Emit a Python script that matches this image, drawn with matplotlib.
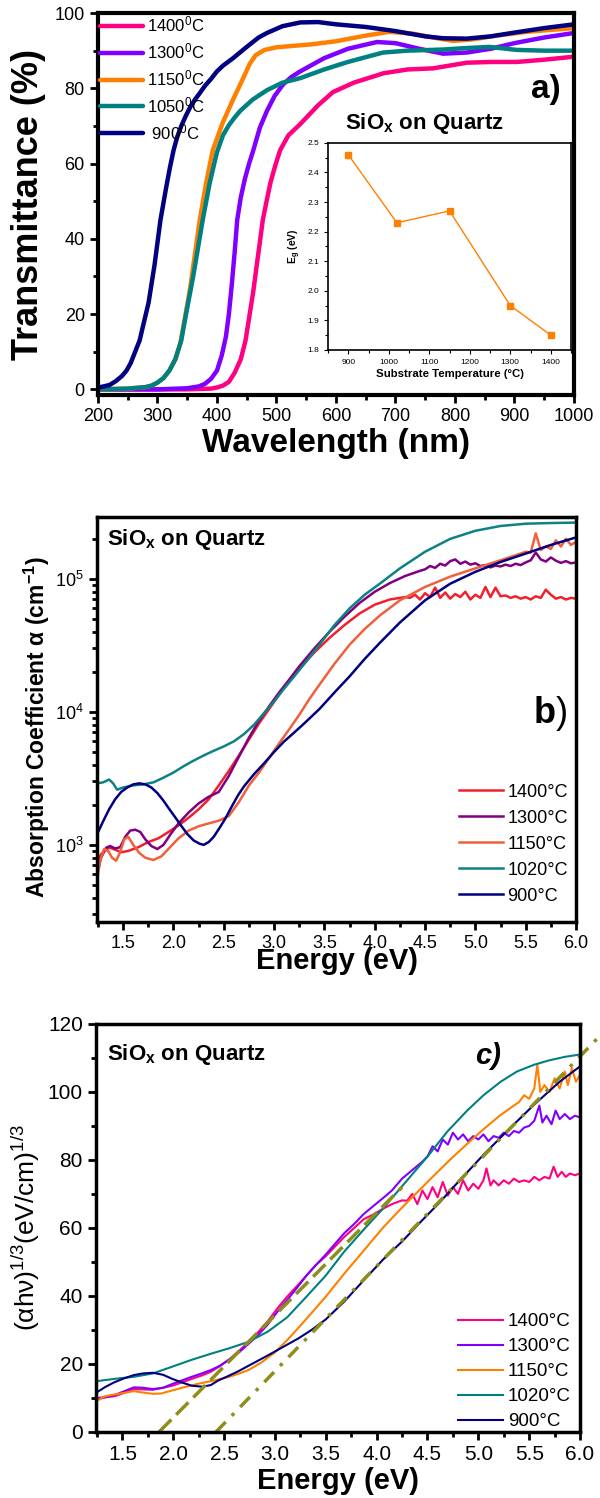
import numpy as np
import matplotlib
matplotlib.use("Agg")
import matplotlib.pyplot as plt
from matplotlib.ticker import MultipleLocator

plt.rcParams['font.family'] = ['Liberation Sans', 'DejaVu Sans']
plt.rcParams['mathtext.fontset'] = 'custom'
plt.rcParams['mathtext.rm'] = 'Liberation Sans'
plt.rcParams['mathtext.it'] = 'Liberation Sans:italic'
plt.rcParams['mathtext.bf'] = 'Liberation Sans:bold'
plt.rcParams['mathtext.default'] = 'regular'

# ---------------- panel a : transmittance ----------------
wl_1400 = [200, 350, 390, 400, 410, 420, 430, 440, 448, 455, 461, 466, 472, 477, 484, 490, 498, 506, 520, 540, 570, 595, 630, 680, 720, 763, 820, 860, 904, 950, 1000]
T_1400 = [0, 0, 0.2, 0.5, 1, 2, 4.5, 8, 13, 20, 26, 32, 39, 45, 50.5, 55, 59.5, 63.5, 67.5, 70.5, 75.5, 79, 81.5, 84, 85, 85.3, 86.8, 87, 87, 87.6, 88.4]

wl_1300 = [200, 300, 350, 370, 380, 390, 400, 408, 415, 420, 425, 430, 434, 440, 447, 454, 461, 472, 484, 497, 511, 525, 540, 580, 620, 669, 700, 740, 780, 820, 860, 900, 950, 1000]
T_1300 = [0, 0, 0.3, 0.8, 1.5, 2.8, 5, 9, 14, 20, 28, 37, 45, 51, 56, 60, 63.5, 69.5, 74, 78, 81, 83, 84.5, 88, 90.5, 92.3, 92, 90.5, 89.2, 89.5, 90.5, 92, 93.5, 94.7]

wl_1150 = [200, 250, 280, 290, 300, 310, 320, 330, 338, 345, 350, 355, 363, 371, 382, 393, 410, 427, 445, 455, 465, 480, 500, 530, 560, 600, 650, 690, 730, 770, 797, 830, 870, 920, 1000]
T_1150 = [0, 0.2, 0.6, 1, 1.8, 3, 5, 8, 12, 18, 22.5, 27, 36, 45, 55, 63.6, 71, 77, 83, 86.5, 88.8, 90.2, 90.9, 91.3, 91.7, 92.5, 94, 95, 94.5, 93.3, 92.6, 93, 94, 95, 96]

wl_1050 = [200, 250, 280, 290, 300, 310, 320, 330, 340, 348, 354, 360, 368, 376, 388, 400, 410, 420, 430, 439, 460, 484, 510, 540, 580, 620, 679, 720, 780, 820, 858, 904, 950, 1000]
T_1050 = [0, 0.2, 0.6, 1, 1.8, 3, 5, 8, 13, 20, 25, 30, 37.5, 45, 55, 63, 67.5, 70.2, 72.3, 74, 77, 79.5, 81.5, 82.7, 85, 87, 89.5, 90, 90.3, 90.7, 91, 90.2, 90, 90]

wl_900 = [200, 210, 220, 230, 240, 248, 255, 262, 270, 277, 285, 290, 295, 300, 305, 310, 315, 321, 327, 333, 340, 348, 355, 363, 371, 380, 390, 400, 410, 427, 450, 470, 484, 510, 540, 570, 600, 650, 700, 750, 780, 820, 860, 900, 950, 1000]
T_900 = [0.5, 0.8, 1.2, 2.2, 3.5, 5, 7, 9.8, 13, 17.7, 23, 28, 33, 39, 45, 49.5, 54, 59, 63.5, 67, 70, 72.8, 75, 77, 78.7, 80.7, 82.5, 84.5, 86, 88, 91, 93.5, 94.7, 96.5, 97.5, 97.6, 97, 96.3, 95.2, 93.8, 93.3, 93.2, 93.8, 94.8, 96, 97]

labels_a = ['1400$^0$C', '1300$^0$C', '1150$^0$C', '1050$^0$C', ' 900$^0$C']
colors_a = ['#ff0080', '#8000ff', '#ff8000', '#008080', '#000080']

# inset : band gap vs substrate temperature
T_sub = [900, 1020, 1150, 1300, 1400]
Eg = [2.46, 2.23, 2.27, 1.95, 1.85]

# ---------------- panel b : absorption coefficient ----------------
E_b1400 = [1.24, 1.28, 1.33, 1.37, 1.42, 1.48, 1.55, 1.65, 1.75, 1.85, 1.95, 2.05, 2.15, 2.25, 2.35, 2.45, 2.55, 2.65, 2.75, 2.85, 2.95, 3.05, 3.15, 3.25, 3.4, 3.55, 3.7, 3.85, 4.0, 4.15, 4.3,
           4.35, 4.40, 4.45, 4.50, 4.55, 4.60, 4.65, 4.70, 4.75, 4.80, 4.85, 4.90, 4.95, 5.00, 5.05, 5.10, 5.15, 5.20, 5.25, 5.30, 5.35, 5.40, 5.45, 5.50, 5.55, 5.60, 5.65, 5.70, 5.75, 5.80, 5.85, 5.90, 5.95, 6.00]
a_b1400 = [750, 850, 930, 950, 920, 880, 900, 960, 1050, 1120, 1250, 1400, 1600, 1850, 2200, 2800, 3600, 4700, 6200, 8200, 1.05e4, 1.35e4, 1.7e4, 2.1e4, 2.8e4, 3.6e4, 4.5e4, 5.5e4, 6.4e4, 7.0e4, 7.3e4,
           7.2e4, 7.6e4, 7.0e4, 7.8e4, 7.3e4, 8.6e4, 7.2e4, 7.9e4, 7.1e4, 7.7e4, 7.3e4, 8.0e4, 7.0e4, 7.6e4, 7.2e4, 8.7e4, 7.3e4, 8.6e4, 7.4e4, 7.5e4, 7.2e4, 7.4e4, 7.1e4, 7.3e4, 7.0e4, 7.4e4, 7.2e4, 8.3e4, 7.6e4, 7.1e4, 7.3e4, 7.0e4, 7.2e4, 7.1e4]

E_b1300 = [1.24, 1.28, 1.33, 1.37, 1.42, 1.47, 1.52, 1.57, 1.62, 1.67, 1.72, 1.78, 1.84, 1.90, 1.97, 2.05, 2.15, 2.25, 2.35, 2.45, 2.55, 2.65, 2.75, 2.85, 2.95, 3.05, 3.15, 3.25, 3.4, 3.55, 3.7, 3.85, 4.0, 4.15, 4.3, 4.45,
           4.50, 4.55, 4.60, 4.65, 4.70, 4.75, 4.80, 4.85, 4.90, 4.95, 5.00, 5.05, 5.10, 5.15, 5.20, 5.25, 5.30, 5.35, 5.40, 5.45, 5.50, 5.55, 5.60, 5.65, 5.70, 5.75, 5.80, 5.85, 5.90, 5.95, 6.00]
a_b1300 = [600, 800, 950, 980, 940, 960, 1150, 1280, 1300, 1250, 1100, 980, 930, 1000, 1200, 1450, 1750, 2050, 2300, 2500, 3300, 4600, 6400, 8600, 1.1e4, 1.4e4, 1.75e4, 2.2e4, 3.0e4, 4.0e4, 5.2e4, 6.6e4, 8.0e4, 9.3e4, 1.05e5, 1.15e5,
           1.18e5, 1.25e5, 1.21e5, 1.3e5, 1.26e5, 1.36e5, 1.4e5, 1.3e5, 1.35e5, 1.28e5, 1.31e5, 1.25e5, 1.27e5, 1.22e5, 1.26e5, 1.24e5, 1.28e5, 1.25e5, 1.3e5, 1.27e5, 1.33e5, 1.38e5, 1.58e5, 1.4e5, 1.35e5, 1.45e5, 1.37e5, 1.32e5, 1.36e5, 1.31e5, 1.33e5]

E_b1150 = [1.24, 1.27, 1.31, 1.35, 1.39, 1.43, 1.47, 1.51, 1.55, 1.60, 1.66, 1.72, 1.80, 1.88, 1.96, 2.05, 2.15, 2.25, 2.35, 2.45, 2.55, 2.65, 2.75, 2.85, 2.95, 3.05, 3.15, 3.25, 3.35, 3.45, 3.6, 3.75, 3.9, 4.05, 4.25, 4.5, 4.75, 5.0, 5.25, 5.45,
           5.50, 5.55, 5.60, 5.65, 5.70, 5.75, 5.80, 5.85, 5.90, 5.95, 6.00]
a_b1150 = [550, 750, 930, 900, 800, 760, 880, 1100, 1150, 1000, 870, 800, 770, 820, 950, 1120, 1280, 1380, 1450, 1520, 1650, 2100, 2800, 3500, 4500, 5800, 7400, 9500, 1.25e4, 1.6e4, 2.3e4, 3.2e4, 4.2e4, 5.3e4, 6.9e4, 8.7e4, 1.04e5, 1.2e5, 1.38e5, 1.55e5,
           1.6e5, 1.58e5, 2.2e5, 1.65e5, 1.75e5, 1.68e5, 1.95e5, 1.75e5, 2.0e5, 1.8e5, 1.9e5]

E_b1020 = [1.24, 1.30, 1.36, 1.40, 1.44, 1.50, 1.60, 1.70, 1.80, 1.90, 2.00, 2.10, 2.20, 2.30, 2.40, 2.50, 2.60, 2.70, 2.80, 2.90, 3.00, 3.10, 3.20, 3.30, 3.45, 3.60, 3.75, 3.90, 4.05, 4.25, 4.50, 4.75, 5.00, 5.25, 5.50, 5.75, 6.00]
a_b1020 = [2.9e3, 2.95e3, 3.1e3, 2.9e3, 2.6e3, 2.7e3, 2.8e3, 2.85e3, 2.95e3, 3.2e3, 3.5e3, 3.9e3, 4.3e3, 4.7e3, 5.1e3, 5.5e3, 6.0e3, 6.8e3, 8.0e3, 9.8e3, 1.2e4, 1.5e4, 1.85e4, 2.3e4, 3.2e4, 4.5e4, 6.0e4, 7.6e4, 9.2e4, 1.2e5, 1.6e5, 2.0e5, 2.3e5, 2.5e5, 2.6e5, 2.63e5, 2.65e5]

E_b900 = [1.24, 1.30, 1.36, 1.42, 1.48, 1.54, 1.60, 1.66, 1.72, 1.78, 1.84, 1.90, 1.96, 2.02, 2.08, 2.14, 2.20, 2.26, 2.30, 2.35, 2.40, 2.46, 2.52, 2.58, 2.64, 2.70, 2.80, 2.90, 3.00, 3.10, 3.20, 3.30, 3.45, 3.60, 3.75, 3.90, 4.05, 4.25, 4.5, 4.75, 5.0, 5.25, 5.5, 5.75, 6.0]
a_b900 = [1.2e3, 1.5e3, 1.85e3, 2.2e3, 2.5e3, 2.7e3, 2.85e3, 2.9e3, 2.85e3, 2.7e3, 2.45e3, 2.15e3, 1.85e3, 1.6e3, 1.38e3, 1.2e3, 1.08e3, 1.02e3, 1.0e3, 1.05e3, 1.15e3, 1.35e3, 1.6e3, 1.95e3, 2.35e3, 2.75e3, 3.4e3, 4.1e3, 5.0e3, 6.0e3, 7.0e3, 8.2e3, 1.05e4, 1.4e4, 1.85e4, 2.5e4, 3.3e4, 4.7e4, 6.9e4, 9.2e4, 1.13e5, 1.34e5, 1.55e5, 1.8e5, 2.05e5]

labels_b = ['1400°C', '1300°C', '1150°C', '1020°C', '900°C']
colors_b = ['#f0202c', '#800080', '#f0603c', '#0e8282', '#000080']

# ---------------- panel c : (alpha h nu)^(1/3) ----------------
E_c1400 = [1.24, 1.33, 1.42, 1.52, 1.61, 1.70, 1.80, 1.90, 1.99, 2.08, 2.18, 2.28, 2.37, 2.46, 2.55, 2.65, 2.74, 2.84, 2.93, 3.02, 3.12, 3.22, 3.31, 3.40, 3.50, 3.59, 3.68, 3.78, 3.87, 3.97, 4.06, 4.15, 4.25,
           4.30, 4.35, 4.40, 4.45, 4.50, 4.55, 4.60, 4.65, 4.70, 4.75, 4.80, 4.85, 4.90, 4.95, 5.00, 5.05, 5.08, 5.12, 5.15, 5.20, 5.25, 5.30, 5.35, 5.40, 5.45, 5.50, 5.55, 5.60, 5.65, 5.70, 5.74, 5.78, 5.82, 5.86, 5.90, 5.95, 6.00]
v_c1400 = [10, 10.2, 10.5, 11.5, 12.6, 12.5, 12.4, 13, 13.6, 14.5, 15.6, 16.6, 17.7, 19.4, 21.3, 23.9, 26.5, 29.5, 32.6, 36.2, 39.8, 43, 46, 49, 51.7, 54.5, 57.3, 60, 62.5, 64, 65.6, 67, 68.1,
           68, 70, 67, 71, 68.5, 72, 69, 73.5, 69.5, 72, 70, 74, 71, 73, 71.5, 74, 77.5, 72.5, 74, 72.5, 74, 73, 74.5, 73.5, 74, 73.5, 75, 74, 75, 74.5, 78, 75, 76.5, 75, 76, 75.5, 76]

E_c1300 = [1.24, 1.33, 1.42, 1.52, 1.61, 1.70, 1.80, 1.90, 1.99, 2.08, 2.18, 2.28, 2.37, 2.46, 2.55, 2.65, 2.74, 2.84, 2.93, 3.02, 3.12, 3.22, 3.31, 3.40, 3.50, 3.59, 3.68, 3.78, 3.87, 3.97, 4.06, 4.15, 4.25, 4.35, 4.45,
           4.50, 4.55, 4.60, 4.65, 4.70, 4.75, 4.80, 4.85, 4.90, 4.95, 5.00, 5.05, 5.10, 5.15, 5.20, 5.25, 5.30, 5.35, 5.40, 5.45, 5.50, 5.55, 5.60, 5.63, 5.67, 5.72, 5.76, 5.80, 5.85, 5.90, 5.95, 6.00]
v_c1300 = [9.5, 10.2, 10.8, 12, 13.1, 13, 12.6, 13, 14.1, 15.1, 16.2, 17.2, 18.2, 19.5, 21.3, 23.5, 25.9, 28.7, 31.6, 35.2, 38.8, 42.5, 46, 49, 52.2, 55.3, 58.4, 61.2, 64, 66.5, 68.7, 71, 74.5, 77, 79.5,
           81, 84, 82.5, 86, 84.5, 88, 86, 87.5, 85.5, 87, 86, 87.5, 85.5, 87, 86.5, 88, 87, 88.5, 88, 89.5, 90, 91.5, 96, 91, 93, 90.5, 94.5, 92, 93.5, 92, 93, 92.5]

E_c1150 = [1.24, 1.33, 1.42, 1.52, 1.61, 1.70, 1.80, 1.88, 1.99, 2.10, 2.25, 2.40, 2.55, 2.65, 2.74, 2.87, 3.0, 3.12, 3.23, 3.36, 3.50, 3.68, 3.87, 4.06, 4.25, 4.40, 4.55, 4.72, 4.90, 5.05, 5.21, 5.35,
           5.40, 5.45, 5.50, 5.55, 5.58, 5.61, 5.65, 5.70, 5.75, 5.80, 5.85, 5.88, 5.92, 5.96, 6.00]
v_c1150 = [9, 10.5, 11, 11.5, 12, 11.6, 11.2, 11.3, 12.2, 13.1, 14.2, 15.1, 16.2, 17.2, 18.2, 20.5, 23.4, 27, 30.6, 35, 39.8, 46.5, 53.2, 60, 66, 70.5, 75, 80, 85, 89, 93, 96,
           97, 99, 98, 101, 108, 100, 102, 100, 104, 101, 106, 102, 107, 103, 105]

E_c1020 = [1.24, 1.42, 1.61, 1.80, 1.99, 2.18, 2.37, 2.55, 2.74, 2.93, 3.12, 3.31, 3.50, 3.68, 3.87, 4.06, 4.30, 4.50, 4.70, 4.89, 5.05, 5.22, 5.38, 5.55, 5.70, 5.85, 6.0]
v_c1020 = [14.9, 15.6, 16.2, 17.2, 19.2, 21.2, 23.0, 24.6, 26.5, 29.5, 33.7, 39.8, 46, 53, 59.4, 65.6, 74, 81, 88.5, 94.5, 99, 103, 106, 108, 109.3, 110.3, 111]

E_c900 = [1.24, 1.33, 1.42, 1.52, 1.61, 1.70, 1.80, 1.90, 1.99, 2.08, 2.18, 2.29, 2.37, 2.44, 2.53, 2.63, 2.78, 2.93, 3.08, 3.23, 3.36, 3.50, 3.68, 3.87, 4.06, 4.25, 4.44, 4.62, 4.74, 5.05, 5.30, 5.54, 5.80, 6.0]
v_c900 = [11.5, 13.2, 14.6, 15.8, 16.7, 17.2, 17.4, 16.8, 15.6, 14.6, 13.6, 13.3, 13.8, 15.1, 16.3, 17.7, 20.1, 22.5, 25.0, 27.5, 30.0, 33.1, 38.3, 44.5, 50.6, 56, 62, 67.5, 71.5, 81.5, 89, 96, 103, 107.5]

colors_c = ['#ff0080', '#8000ff', '#ff8000', '#008080', '#000080']

# Tauc-type extrapolation lines (end points)
fit1_E = [1.86, 4.25]
fit1_v = [0, 72]
fit2_E = [2.42, 6.18]
fit2_v = [0, 116]

fig = plt.figure(figsize=(6, 14.98), dpi=100)


def style_axes(ax, spw=2.5):
    for s in ax.spines.values():
        s.set_linewidth(spw)
    ax.tick_params(which='both', direction='out', top=False, right=False, width=2)
    ax.tick_params(which='major', length=6)
    ax.tick_params(which='minor', length=3.5)


# ---- a ----
ax1 = fig.add_axes([0.1633, 0.7363, 0.7933, 0.2550])
for wl, T, c, lab in zip([wl_1400, wl_1300, wl_1150, wl_1050, wl_900],
                         [T_1400, T_1300, T_1150, T_1050, T_900], colors_a, labels_a):
    ax1.plot(wl, T, color=c, lw=3.2, label=lab, solid_capstyle='round', solid_joinstyle='round')
ax1.set_xlim(200, 1000)
ax1.set_ylim(-1.5, 100)
ax1.xaxis.set_major_locator(MultipleLocator(100))
ax1.xaxis.set_minor_locator(MultipleLocator(50))
ax1.yaxis.set_major_locator(MultipleLocator(20))
ax1.yaxis.set_minor_locator(MultipleLocator(10))
style_axes(ax1, 3)
ax1.tick_params(labelsize=13)
ax1.set_xlabel('Wavelength (nm)', fontsize=24, fontweight='bold', labelpad=2)
ax1.set_ylabel('Transmittance (%)', fontsize=26, fontweight='bold', labelpad=6)
ax1.legend(loc='upper left', bbox_to_anchor=(0.0, 1.0), frameon=False, fontsize=12,
           handlelength=2.6, handletextpad=0.25, labelspacing=0.42, borderaxespad=0.0, borderpad=0.1)
ax1.text(0.94, 0.80, 'a)', transform=ax1.transAxes, fontsize=24, fontweight='bold', ha='center', va='center')
ax1.text(0.519, 0.697, r'SiO$_\mathbf{x}$ on Quartz', transform=ax1.transAxes, fontsize=16, fontweight='bold', ha='left', va='baseline')

axin = fig.add_axes([0.5467, 0.7664, 0.405, 0.1382])
axin.plot(T_sub, Eg, color='#ff8000', lw=1, marker='s', ms=4)
axin.set_xlim(850, 1450)
axin.set_ylim(1.8, 2.5)
axin.xaxis.set_major_locator(MultipleLocator(100))
axin.xaxis.set_minor_locator(MultipleLocator(50))
axin.yaxis.set_major_locator(MultipleLocator(0.1))
axin.yaxis.set_minor_locator(MultipleLocator(0.05))
for s in axin.spines.values():
    s.set_linewidth(1.2)
axin.tick_params(which='both', direction='out', labelsize=6, width=0.8, top=False, right=False)
axin.tick_params(which='major', length=3)
axin.tick_params(which='minor', length=2)
axin.set_xlabel('Substrate Temperature (°C)', fontsize=8.2, fontweight='bold', labelpad=2)
axin.set_ylabel(r'E$_\mathbf{g}$ (eV)', fontsize=7.5, fontweight='bold', labelpad=3)

# ---- b ----
ax2 = fig.add_axes([0.1617, 1 - 922 / 1498, 0.7983, 405 / 1498])
for E, a, c, lab in zip([E_b1400, E_b1300, E_b1150, E_b1020, E_b900],
                        [a_b1400, a_b1300, a_b1150, a_b1020, a_b900], colors_b, labels_b):
    ax2.plot(E, a, color=c, lw=1.8, label=lab)
ax2.set_yscale('log')
ax2.set_xlim(1.24, 6.0)
ax2.set_ylim(263, 2.92e5)
ax2.xaxis.set_major_locator(MultipleLocator(0.5))
ax2.xaxis.set_minor_locator(MultipleLocator(0.25))
style_axes(ax2, 2.5)
ax2.tick_params(labelsize=13)
ax2.set_xlabel('Energy (eV)', fontsize=21, fontweight='bold', labelpad=-4)
ax2.set_ylabel(r'Absorption Coefficient α (cm$^{\mathbf{-1}}$)', fontsize=16.5, fontweight='bold')
ax2.yaxis.set_label_coords(-0.094, 0.48)
ax2.legend(loc='lower right', bbox_to_anchor=(0.998, 0.025), frameon=False, fontsize=13,
           handlelength=2.4, handletextpad=0.25, labelspacing=0.5, borderaxespad=0.0, borderpad=0.4)
ax2.text(0.021, 0.930, r'SiO$_\mathbf{x}$ on Quartz', transform=ax2.transAxes, fontsize=16, fontweight='bold', ha='left', va='baseline')
ax2.text(0.946, 0.516, r'$\mathbf{b}$)', transform=ax2.transAxes, fontsize=26, ha='center', va='center')

# ---- c ----
ax3 = fig.add_axes([0.16, 0.0441, 0.8067, 0.2724])
for E, v, c, lab in zip([E_c1400, E_c1300, E_c1150, E_c1020, E_c900],
                        [v_c1400, v_c1300, v_c1150, v_c1020, v_c900], colors_c, labels_b):
    ax3.plot(E, v, color=c, lw=1.5, label=lab)
ax3.plot(fit1_E, fit1_v, color='#8e8e1c', lw=2.5, ls=(0, (5, 2)))
ax3.plot(fit2_E, fit2_v, color='#8e8e1c', lw=2.5, ls=(0, (4, 2.5, 1, 2.5)), clip_on=False)
ax3.set_xlim(1.24, 6.0)
ax3.set_ylim(0, 120)
ax3.xaxis.set_major_locator(MultipleLocator(0.5))
ax3.xaxis.set_minor_locator(MultipleLocator(0.25))
ax3.yaxis.set_major_locator(MultipleLocator(20))
ax3.yaxis.set_minor_locator(MultipleLocator(10))
style_axes(ax3, 2.5)
ax3.tick_params(labelsize=15)
ax3.set_xlabel('Energy (eV)', fontsize=21, fontweight='bold', labelpad=2)
ax3.set_ylabel(r'(αhν)$^{1/3}$(eV/cm)$^{1/3}$', fontsize=19, labelpad=4)
ax3.legend(loc='lower right', bbox_to_anchor=(0.985, 0.0), frameon=False, fontsize=13.5,
           handlelength=2.4, handletextpad=0.25, labelspacing=0.42, borderaxespad=0.0, borderpad=0.1)
ax3.text(0.023, 0.912, r'SiO$_\mathbf{x}$ on Quartz', transform=ax3.transAxes, fontsize=16, fontweight='bold', ha='left', va='baseline')
ax3.text(0.81, 0.922, 'c)', transform=ax3.transAxes, fontsize=21, fontweight='bold', fontstyle='italic', ha='center', va='center')

fig.savefig('out.png', dpi=100)
